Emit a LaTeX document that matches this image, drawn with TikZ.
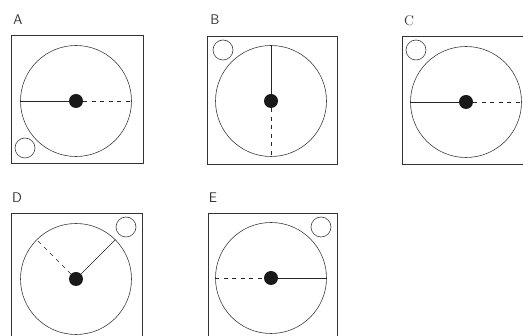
\documentclass[tikz,border=0pt]{standalone}
\begin{document}
\begin{tikzpicture}[x=1pt,y=-1pt,
  frame/.style={draw=black!80,line width=0.9pt},
  bigc/.style={circle,draw=black!75,line width=0.6pt,minimum size=111pt,inner sep=0pt},
  hub/.style={circle,fill=black!90,minimum size=14pt,inner sep=0pt},
  smallc/.style={circle,draw=black!75,line width=0.6pt,minimum size=20pt,inner sep=0pt},
  lab/.style={font=\fontsize{14}{15}\sffamily,text=black!80,inner sep=0pt},
  solidl/.style={draw=black!85,line width=0.7pt},
  dashl/.style={draw=black!85,line width=0.7pt,dash pattern=on 4pt off 4.5pt}]
\useasboundingbox (0,0) rectangle (523,336);
\clip (0,0) rectangle (523,336);
\fill[white] (0,0) rectangle (523,336);
% A
\node[lab] (labA) at (18,20) {A};
\draw[frame] (11,35) rectangle (143,163);
\node[bigc] (cA) at (76,101) {};
\node[hub] (hA) at (76,101) {};
\node[smallc] (sA) at (25,148) {};
\draw[solidl] (cA.west) -- (hA);
\draw[dashl] (hA) -- (cA.east);
% B
\node[lab] (labB) at (215,20) {B};
\draw[frame] (207,36) rectangle (337,164);
\node[bigc] (cB) at (271,101) {};
\node[hub] (hB) at (271,101) {};
\node[smallc] (sB) at (223,50) {};
\draw[solidl] (cB.north) -- (hB);
\draw[dashl] (hB) -- (cB.south);
% C
\node[lab,font=\fontsize{14}{15}\rmfamily] (labC) at (409,21) {C};
\draw[frame] (402,36) rectangle (540,164);
\node[bigc] (cC) at (466,102) {};
\node[hub] (hC) at (466,102) {};
\node[smallc] (sC) at (416,50) {};
\draw[solidl] (cC.west) -- (hC);
\draw[dashl] (hC) -- (cC.east);
% D
\node[lab] (labD) at (17,198) {D};
\draw[frame] (11,213) rectangle (142,345);
\node[bigc] (cD) at (76,279) {};
\node[hub] (hD) at (76,279) {};
\node[smallc] (sD) at (126,227) {};
\draw[solidl] (hD) -- (cD.45);
\draw[dashl] (hD) -- (cD.135);
% E
\node[lab] (labE) at (213,198) {E};
\draw[frame] (208,213) rectangle (337,345);
\node[bigc] (cE) at (271,278) {};
\node[hub] (hE) at (271,278) {};
\node[smallc] (sE) at (321,227) {};
\draw[dashl] (cE.west) -- (hE);
\draw[solidl] (hE) -- (cE.east);
\end{tikzpicture}
\end{document}
